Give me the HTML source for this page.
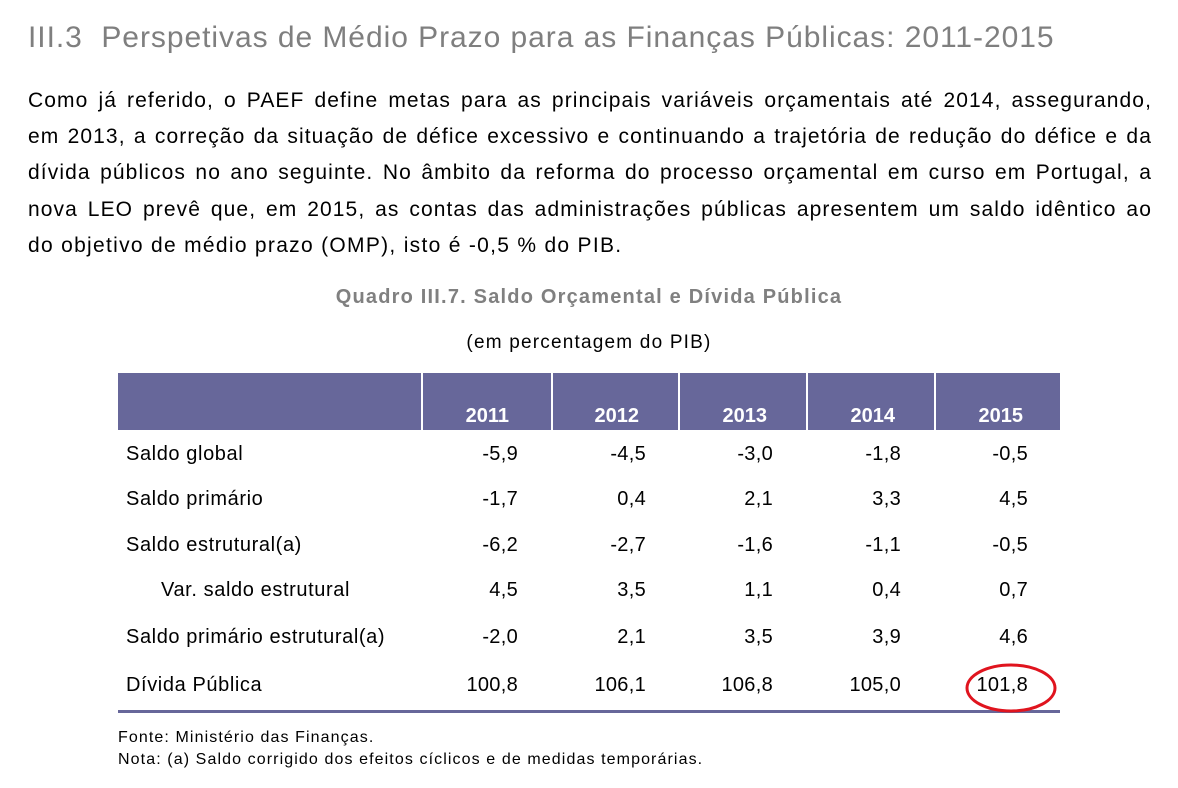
<!DOCTYPE html>
<html><head><meta charset="utf-8"><style>
body{margin:0;width:1178px;height:788px;background:#fff;font-family:"Liberation Sans",Arial,sans-serif;position:relative;overflow:hidden;color:#000}
.a{position:absolute;white-space:nowrap}
#title{left:28px;top:21px;font-size:30px;letter-spacing:0.95px;color:#7f7f7f}
.pl{position:absolute;left:28px;width:1124px;font-size:21px;text-align:justify;text-align-last:justify;white-space:nowrap;letter-spacing:1.1px}
#cap{left:0;width:1178px;text-align:center;top:286px;font-size:20px;letter-spacing:1.2px;font-weight:bold;color:#808080}
#sub{left:0;width:1178px;text-align:center;top:332px;font-size:19px;letter-spacing:1.2px}
.hdr{position:absolute;top:373px;height:57px;background:#67679a}
.yr{position:absolute;top:405px;font-size:20px;font-weight:bold;color:#fff;text-align:right}
.lbl{position:absolute;font-size:20px;left:126px;letter-spacing:0.6px}
.num{position:absolute;font-size:20px;text-align:right;width:100px;letter-spacing:0.3px}
.foot{position:absolute;left:118px;font-size:16px;letter-spacing:1.1px}
</style></head><body>
<div class="a" id="title">III.3&nbsp;&nbsp;Perspetivas de Médio Prazo para as Finanças Públicas: 2011-2015</div>
<div>
<div class="pl" style="top:89px">Como já referido, o PAEF define metas para as principais variáveis orçamentais até 2014, assegurando,</div>
<div class="pl" style="top:125px">em 2013, a correção da situação de défice excessivo e continuando a trajetória de redução do défice e da</div>
<div class="pl" style="top:161px">dívida públicos no ano seguinte. No âmbito da reforma do processo orçamental em curso em Portugal, a</div>
<div class="pl" style="top:198px">nova LEO prevê que, em 2015, as contas das administrações públicas apresentem um saldo idêntico ao</div>
<div class="pl" style="top:234px;text-align-last:left;letter-spacing:1.3px">do objetivo de médio prazo (OMP), isto é -0,5 % do PIB.</div>
</div>
<div class="a" id="cap">Quadro III.7. Saldo Orçamental e Dívida Pública</div>
<div class="a" id="sub">(em percentagem do PIB)</div>
<div id="tbl"></div>
<div style="position:absolute;left:118px;top:710px;width:942px;height:3px;background:#67679a"></div>
<svg style="position:absolute;left:0;top:0" width="1178" height="788">
<ellipse cx="1011" cy="688" rx="44" ry="23" fill="none" stroke="#e0141e" stroke-width="3"/>
</svg>
<div class="foot" style="top:729px">Fonte: Ministério das Finanças.</div>
<div class="foot" style="top:751px">Nota: (a) Saldo corrigido dos efeitos cíclicos e de medidas temporárias.</div>
<script>
const years=["2011","2012","2013","2014","2015"];
const rowLabels=["Saldo global","Saldo primário","Saldo estrutural(a)","Var. saldo estrutural","Saldo primário estrutural(a)","Dívida Pública"];
const rowValues=[
["-5,9","-4,5","-3,0","-1,8","-0,5"],
["-1,7","0,4","2,1","3,3","4,5"],
["-6,2","-2,7","-1,6","-1,1","-0,5"],
["4,5","3,5","1,1","0,4","0,7"],
["-2,0","2,1","3,5","3,9","4,6"],
["100,8","106,1","106,8","105,0","101,8"]];
const t=document.getElementById('tbl');
const edges=[118,421,551,678,806,934,1060];
const rowY=[443,488,534,579,626,674];
const rights=[518,646,773,901,1028];
const yrRights=[509,639,767,895,1023];
for(let i=0;i<6;i++){
 const h=document.createElement('div');h.className='hdr';
 h.style.left=(edges[i]+(i?2:0))+'px';h.style.width=(edges[i+1]-edges[i]-(i?2:0))+'px';
 
 
 t.appendChild(h);
}
years.forEach((y,j)=>{
 const d=document.createElement('div');d.className='yr';d.textContent=y;
 d.style.left=(yrRights[j]-60)+'px';d.style.width='60px';
 
 
 t.appendChild(d);
});
rowLabels.forEach((l,i)=>{
 const d=document.createElement('div');d.className='lbl';d.textContent=l;
 d.style.top=rowY[i]+'px';if(i===3)d.style.left='161px';
 
 
 t.appendChild(d);
 rowValues[i].forEach((v,j)=>{
  const n=document.createElement('div');n.className='num';n.textContent=v;
  n.style.top=rowY[i]+'px';n.style.left=(rights[j]-100)+'px';
  
  
  t.appendChild(n);
 });
});
</script>
</body></html>
